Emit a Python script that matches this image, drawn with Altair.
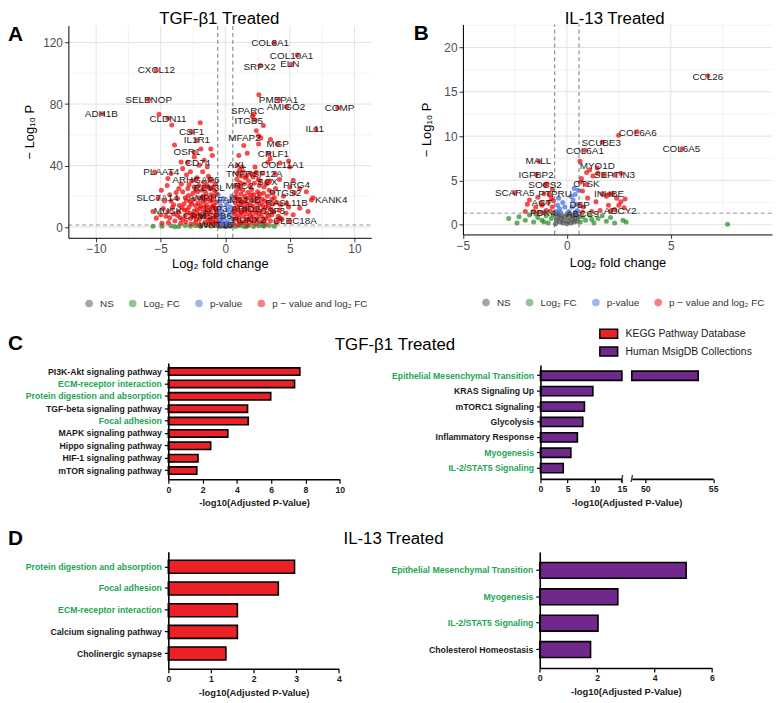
import json
import altair as alt
import pandas as pd

W, H = 775, 694
FONT = "Liberation Sans"
GREEN_TXT = "#22a552"
DARK = "#1a1a1a"

# ---------------- volcano data ----------------
V_CATS = ["NS", "Log₂ FC", "p-value", "p − value and log₂ FC"]
V_COLORS = ["#4d4d4d", "#228b22", "#4169e1", "#ee0000"]

A_NS = [(-0.4, 0.4), (-0.2, 0.8), (0.0, 0.3), (0.2, 0.9), (0.4, 0.5), (-0.5, 1.0), (0.5, 1.1), (0.1, 0.6)]
A_FC = [(-4.9, 0.6), (-4.2, 0.9), (-3.6, 0.4), (-3.1, 1.0), (-2.7, 0.5), (-2.3, 0.8), (-1.9, 0.3), (-1.5, 1.1),
        (-1.1, 0.6), (-0.8, 0.9), (0.8, 0.4), (1.1, 1.0), (1.4, 0.6), (1.8, 0.9), (2.2, 0.3), (2.6, 0.8),
        (3.0, 0.5), (3.4, 1.0), (3.8, 0.6), (-2.0, 0.9), (1.6, 0.2), (-5.6, 0.5), (-3.9, 0.2), (2.9, 1.1)]
A_P = [(-0.5, 2), (-0.4, 4), (-0.55, 6.5), (-0.3, 3), (-0.45, 9), (-0.2, 5.5), (-0.5, 12), (-0.35, 14),
       (-0.1, 7), (0.0, 2.5), (-0.25, 10.5), (0.15, 4), (0.3, 8), (0.45, 2), (0.5, 5.5), (0.2, 11),
       (0.4, 13), (0.55, 10), (0.1, 15), (0.35, 17), (-0.4, 17), (0.5, 20), (-0.15, 18.5), (0.25, 2), (-0.55, 21)]
A_FCP_LEFT = [
    (-0.65, 1.8), (-0.7, 4.5), (-0.75, 8), (-0.8, 12), (-0.7, 16), (-0.9, 20), (-0.85, 24), (-0.75, 28),
    (-1.0, 2.5), (-1.05, 6), (-1.1, 9.5), (-1.0, 13.5), (-1.15, 17), (-1.1, 21), (-1.2, 25), (-1.05, 30),
    (-1.3, 1.5), (-1.35, 4.5), (-1.4, 8), (-1.3, 11), (-1.45, 14.5), (-1.35, 18.5), (-1.5, 22), (-1.4, 27), (-1.3, 33),
    (-1.6, 3), (-1.65, 6.5), (-1.7, 10), (-1.6, 13), (-1.75, 16.5), (-1.7, 20), (-1.8, 24), (-1.65, 29), (-1.75, 36),
    (-1.95, 1.5), (-2.0, 5), (-2.05, 8.5), (-1.95, 12), (-2.1, 15.5), (-2.0, 19), (-2.15, 23), (-2.05, 27), (-2.2, 32),
    (-2.3, 3), (-2.35, 7), (-2.4, 10.5), (-2.3, 14), (-2.45, 18), (-2.5, 22), (-2.4, 26), (-2.6, 30),
    (-2.65, 2), (-2.7, 5.5), (-2.75, 9), (-2.8, 13), (-2.7, 16.5), (-2.85, 20.5), (-2.9, 25), (-3.0, 34),
    (-3.05, 3.5), (-3.1, 7.5), (-3.15, 11), (-3.2, 15), (-3.1, 19), (-3.3, 23), (-3.4, 28),
    (-3.45, 2.5), (-3.5, 6), (-3.6, 10), (-3.55, 14), (-3.7, 18.5), (-3.8, 22.5),
    (-3.9, 4), (-4.0, 8.5), (-4.1, 12.5), (-4.2, 17), (-4.3, 21), (-4.5, 27),
    (-4.4, 3), (-4.6, 7), (-4.8, 12), (-4.9, 2.5),
    (-0.68, 10), (-0.9, 14), (-0.95, 3.5), (-1.2, 5), (-1.25, 12.5), (-1.5, 10), (-1.55, 17.5), (-1.85, 7),
    (-1.9, 13.5), (-2.2, 11), (-2.25, 5), (-2.55, 8), (-2.6, 15), (-2.95, 11), (-3.0, 17.5), (-3.3, 5),
    (-3.35, 12.5), (-3.7, 7.5), (-4.0, 14.5), (-4.3, 6), (-1.2, 31), (-1.6, 25.5), (-2.3, 24.5), (-0.95, 26),
    (-2.8, 27.5), (-3.6, 25), (-0.7, 22), (-4.7, 17), (-5.0, 8), (-1.0, 17.5)]
A_FCP_RIGHT = [
    (0.65, 2), (0.7, 5), (0.75, 8.5), (0.7, 12), (0.8, 15.5), (0.75, 19), (0.85, 23), (0.8, 27), (0.9, 31),
    (1.0, 1.5), (1.05, 4.5), (1.1, 8), (1.0, 11), (1.15, 14.5), (1.1, 18), (1.2, 21.5), (1.05, 25), (1.15, 29), (1.25, 33), (1.1, 37),
    (1.35, 3), (1.4, 6.5), (1.3, 10), (1.45, 13), (1.4, 16.5), (1.5, 20), (1.35, 24), (1.45, 28), (1.55, 32), (1.4, 36),
    (1.7, 1.5), (1.75, 5), (1.65, 8.5), (1.8, 12), (1.7, 15), (1.85, 19), (1.75, 22.5), (1.9, 26.5), (1.8, 30), (1.95, 35),
    (2.05, 3), (2.1, 6.5), (2.0, 10), (2.15, 13.5), (2.1, 17), (2.2, 21), (2.05, 24.5), (2.25, 28.5), (2.15, 32.5), (2.3, 39),
    (2.4, 2), (2.45, 5.5), (2.35, 9), (2.5, 12.5), (2.45, 16), (2.6, 19.5), (2.5, 23), (2.65, 27), (2.55, 31),
    (2.75, 3.5), (2.8, 7), (2.7, 10.5), (2.9, 14), (2.85, 18), (2.95, 22), (3.0, 26), (2.9, 35),
    (3.1, 2), (3.15, 5.5), (3.2, 9), (3.1, 12.5), (3.3, 16), (3.25, 20), (3.4, 24), (3.45, 30),
    (3.5, 4), (3.6, 8), (3.55, 11.5), (3.7, 15), (3.8, 19), (3.9, 25),
    (3.95, 3), (4.1, 7), (4.2, 11), (4.3, 14.5), (4.5, 20), (4.7, 9), (4.9, 13),
    (0.68, 10), (0.95, 13), (0.9, 6), (1.2, 3), (1.25, 9.5), (1.3, 16), (1.6, 4), (1.55, 11), (1.6, 18),
    (1.95, 7.5), (1.9, 14.5), (2.0, 21), (2.3, 11), (2.3, 4.5), (2.35, 18.5), (2.6, 8.5), (2.7, 15), (2.65, 21.5),
    (3.0, 4.5), (3.0, 11), (3.05, 17), (3.35, 7), (3.35, 13.5), (3.6, 18), (3.75, 10), (4.0, 16), (0.95, 35),
    (1.65, 33), (2.4, 35.5), (2.7, 30), (3.2, 28), (3.7, 22), (4.4, 5), (1.3, 39), (0.85, 20)]
A_FCP_SPARSE = [
    (-5.13, 73.3), (-4.14, 66.4), (-1.94, 67.9), (-3.93, 53.4), (-1.89, 50.8), (-1.12, 50.8), (-2.4, 45.5),
    (-3.42, 42.3), (-2.02, 40.2), (-1.63, 43.4), (-1.0, 46.6), (-4.19, 34.8), (-4.44, 31.6), (-4.95, 24),
    (-5.6, 10.1), (-5.34, 5.8), (-3.3, 38), (-2.7, 36), (-1.4, 39),
    (1.05, 46.6), (1.43, 53), (2.58, 54), (2.4, 62.7), (3.47, 44.4), (3.85, 34.8), (5.0, 39), (5.26, 30.5),
    (5.77, 25.1), (6.28, 23), (6.67, 17.6), (6.41, 10.1), (5.77, 12.2), (5.26, 8), (5.0, 3.7), (4.24, 5.8),
    (2.6, 86), (2.95, 66), (2.1, 72), (2.75, 58), (3.5, 57), (4.9, 43), (4.2, 31), (3.3, 42), (1.7, 48)]
# (gene, point x, point y, label x, label y)
A_GENES = [
    ("COL8A1", 3.78, 119.8, 3.47, 119.8), ("COL10A1", 5.57, 111.9, 5.13, 111.4), ("ELN", 5.13, 105.8, 5.0, 105.8),
    ("SRPX2", 2.71, 105.0, 2.66, 104.4), ("CXCL12", -5.34, 102.2, -5.34, 102.2), ("SELENOP", -5.93, 82.9, -5.93, 82.9),
    ("ADH1B", -9.5, 73.7, -9.6, 73.3), ("CLDN11", -4.44, 70.7, -4.44, 70.5), ("PMEPA1", 4.14, 82.9, 4.12, 82.9),
    ("AMIGO2", 4.75, 78.2, 4.7, 78.2), ("COMP", 8.71, 77.6, 8.84, 77.6), ("SPARC", 2.2, 73.3, 1.74, 75.4),
    ("ITGB5", 2.32, 69.6, 1.81, 69.0), ("IL11", 7.0, 63.6, 6.92, 63.6), ("CSF1", -2.61, 61.9, -2.61, 61.5),
    ("IL1R1", -2.2, 56.6, -2.2, 56.6), ("MFAP2", 2.58, 59.4, 1.48, 57.6), ("MGP", 4.06, 54.0, 4.06, 54.0),
    ("OSR1", -2.4, 48.6, -2.96, 48.6), ("CRLF1", 3.35, 47.6, 3.73, 47.6), ("CD74", -2.91, 42.2, -2.15, 41.8),
    ("AXL", 0.92, 40.1, 0.92, 40.1), ("COL11A1", 4.24, 41.6, 4.44, 40.5), ("PLAAT4", -5.47, 35.8, -4.96, 35.8),
    ("TNFRSF12A", 2.25, 34.3, 2.25, 34.3), ("ARHGAP6", -2.27, 30.9, -2.27, 30.9), ("SCX", 3.27, 29.4, 3.27, 29.4),
    ("PRG4", 5.0, 25.9, 5.52, 27.2), ("REV3L", -1.25, 25.7, -1.25, 25.7), ("MRC2", 1.1, 26.6, 1.1, 26.6),
    ("SLC7A14", -5.21, 18.6, -5.26, 18.6), ("AMPH", -1.76, 19.1, -1.76, 19.1), ("PTGS2", 5.34, 22.3, 4.62, 21.9),
    ("KANK4", 6.79, 19.1, 8.2, 17.6), ("FAM214B", 1.05, 17.6, 1.05, 17.6), ("RASL11B", 4.75, 15.4, 4.75, 15.4),
    ("LAP3", -0.74, 11.8, -0.74, 11.8), ("ARID2", 1.56, 11.8, 1.56, 11.8), ("MUSK", -4.44, 10.1, -4.44, 10.1),
    ("CSF3", 3.65, 10.1, 3.65, 10.1), ("CPM", -2.4, 6.9, -2.4, 6.9), ("HSPB6", -0.74, 6.9, -0.74, 6.9),
    ("RUNX2", 1.81, 4.7, 1.81, 4.7), ("WNT16", -0.74, 2.5, -0.74, 1.1), ("CLEC18A", 4.11, 4.7, 5.39, 4.1)]

B_NS = [(-0.55, 0.1), (-0.5, 0.5), (-0.45, 0.9), (-0.4, 1.2), (-0.35, 0.3), (-0.3, 0.7), (-0.25, 1.0), (-0.2, 0.2),
        (-0.15, 0.5), (-0.1, 0.9), (0.0, 0.1), (0.05, 0.4), (0.1, 0.8), (0.15, 1.2), (0.2, 0.2), (0.25, 0.6),
        (0.3, 1.0), (0.35, 0.3), (0.4, 0.7), (0.45, 1.1), (0.5, 0.4), (0.55, 0.9), (-0.5, 1.25), (0.0, 1.2)]
B_FC = [(-2.8, 0.7), (-2.3, 0.9), (-2.0, 0.5), (-1.8, 1.1), (-1.6, 0.3), (-1.4, 0.8), (-1.2, 0.5), (-1.0, 1.0),
        (-0.9, 0.2), (-0.75, 0.7), (-0.65, 1.1), (-2.4, 0.2), (-1.5, 1.2), (0.65, 0.3), (0.75, 0.9), (0.9, 0.5),
        (1.1, 1.1), (1.3, 0.2), (1.5, 0.7), (1.7, 1.0), (1.9, 0.4), (2.1, 0.8), (2.3, 0.2), (2.7, 0.5),
        (2.85, 0.3), (7.73, 0.05), (1.2, 0.6), (-1.1, 0.3)]
B_P = [(-0.5, 1.5), (-0.45, 2.2), (-0.35, 1.8), (-0.4, 3.0), (-0.2, 2.5), (-0.3, 1.4), (0.1, 1.5), (0.25, 2.0),
       (0.3, 2.8), (0.4, 3.4), (0.45, 2.3), (0.5, 1.6), (0.35, 4.1), (0.55, 3.9), (0.2, 3.2), (-0.1, 2.0), (0.4, 1.4)]
B_FCP = [(0.63, 7.15), (2.49, 10.1), (0.7, 5.2), (0.95, 5.9), (1.1, 6.2), (1.25, 5.5), (1.5, 5.8), (1.8, 5.6),
         (2.6, 5.8), (2.2, 3.5), (1.9, 3.2), (2.4, 3.0), (2.6, 2.6), (2.5, 2.2), (2.3, 1.7), (1.6, 1.6), (1.4, 2.6),
         (1.0, 3.0), (0.8, 2.0), (1.2, 1.5), (0.75, 3.8), (0.65, 4.8), (2.8, 2.9), (2.75, 1.9), (2.0, 2.2), (1.7, 3.5),
         (-0.7, 2.0), (-0.75, 3.0), (-0.9, 2.5), (-1.0, 1.6), (-1.5, 2.0), (-1.6, 1.5), (-1.8, 2.8), (-1.4, 3.1),
         (-1.1, 3.5), (-0.7, 4.0), (-0.8, 1.5), (-2.0, 1.5), (-1.9, 2.3), (-1.2, 2.2), (-0.95, 4.6), (-0.65, 2.7), (-1.35, 1.4)]
B_GENES = [
    ("CCL26", 6.78, 16.8, 6.78, 16.7), ("COL6A6", 3.37, 10.5, 3.41, 10.4), ("COL6A5", 5.54, 8.57, 5.51, 8.5),
    ("SCUBE3", 1.7, 9.3, 1.65, 9.24), ("COL6A1", 0.87, 8.4, 0.87, 8.3), ("MALL", -1.35, 7.15, -1.37, 7.15),
    ("MYO1D", 1.46, 6.4, 1.46, 6.6), ("IGFBP2", -1.48, 5.66, -1.48, 5.66), ("SEPTIN3", 2.29, 5.59, 2.29, 5.59),
    ("SOCS2", -1.05, 4.47, -1.05, 4.47), ("CTSK", 0.94, 4.54, 0.94, 4.54), ("SCARA5", -2.51, 3.61, -2.51, 3.61),
    ("PTPRU", -0.84, 3.43, -0.57, 3.43), ("INHBE", 2.03, 3.43, 2.03, 3.43), ("AGT", -1.21, 2.42, -1.21, 2.42),
    ("DSP", 0.62, 2.23, 0.62, 2.23), ("ADCY2", 2.1, 1.56, 2.57, 1.56), ("PDK4", -1.16, 1.34, -1.16, 1.34),
    ("ABCC9", 0.75, 1.4, 0.75, 1.23)]

# ---------------- enrichment data ----------------
DBS = ["KEGG Pathway Database", "Human MsigDB Collections"]
DB_COLORS = ["#ec2027", "#70288c"]

C_KEGG_TERMS = ["PI3K-Akt signaling pathway", "ECM-receptor interaction", "Protein digestion and absorption",
                "TGF-beta signaling pathway", "Focal adhesion", "MAPK signaling pathway",
                "Hippo signaling pathway", "HIF-1 signaling pathway", "mTOR signaling pathway"]
C_KEGG_VALS = [7.67, 7.36, 5.97, 4.62, 4.66, 3.47, 2.47, 1.73, 1.66]
C_KEGG_GREEN = ["ECM-receptor interaction", "Protein digestion and absorption", "Focal adhesion"]

C_MSIG_TERMS = ["Epithelial Mesenchymal Transition", "KRAS Signaling Up", "mTORC1 Signaling", "Glycolysis",
                "Inflammatory Response", "Myogenesis", "IL-2/STAT5 Signaling"]
C_MSIG_VALS = [53.9, 9.65, 8.1, 7.8, 6.8, 5.6, 4.2]
C_MSIG_GREEN = ["Epithelial Mesenchymal Transition", "Myogenesis", "IL-2/STAT5 Signaling"]

D_KEGG_TERMS = ["Protein digestion and absorption", "Focal adhesion", "ECM-receptor interaction",
                "Calcium signaling pathway", "Cholinergic synapse"]
D_KEGG_VALS = [2.96, 2.58, 1.62, 1.62, 1.35]
D_KEGG_GREEN = ["Protein digestion and absorption", "Focal adhesion", "ECM-receptor interaction"]

D_MSIG_TERMS = ["Epithelial Mesenchymal Transition", "Myogenesis", "IL-2/STAT5 Signaling", "Cholesterol Homeostasis"]
D_MSIG_VALS = [5.1, 2.72, 2.03, 1.77]
D_MSIG_GREEN = ["Epithelial Mesenchymal Transition", "Myogenesis", "IL-2/STAT5 Signaling"]

XTITLE_BAR = "-log10(Adjusted P-Value)"


# ---------------- volcano builder (returns flat list of unit charts) ----------------
def volcano(ns, fc, p, fcp, genes, xdom, xrng, ydom, yrng, xt, yt, xminor, yminor, leg, ypad, xpad):
    def xs():
        return alt.Scale(domain=xdom, range=xrng, nice=False, zero=False)

    def ys():
        return alt.Scale(domain=ydom, range=yrng, nice=False, zero=False)

    rows = []
    for cat, pts in zip(V_CATS, (ns, fc, p, fcp)):
        rows += [{"x": a, "y": b, "cat": cat} for a, b in pts]
    rows += [{"x": g[1], "y": g[2], "cat": V_CATS[3]} for g in genes]
    pts_df = pd.DataFrame(rows)
    lab_df = pd.DataFrame([{"label": g[0], "x": g[3], "y": g[4]} for g in genes])

    def vrule(vals, **mk):
        df = pd.DataFrame({"v": vals, "lo": [ydom[0]] * len(vals), "hi": [ydom[1]] * len(vals)})
        return alt.Chart(df).mark_rule(**mk).encode(
            x=alt.X("v:Q", scale=xs(), axis=None), y=alt.Y("lo:Q", scale=ys(), axis=None), y2="hi:Q")

    def hrule(vals, **mk):
        df = pd.DataFrame({"v": vals, "lo": [xdom[0]] * len(vals), "hi": [xdom[1]] * len(vals)})
        return alt.Chart(df).mark_rule(**mk).encode(
            y=alt.Y("v:Q", scale=ys(), axis=None), x=alt.X("lo:Q", scale=xs(), axis=None), x2="hi:Q")

    ax_common = dict(grid=False, labelFont=FONT, labelFontSize=12, labelColor="#4d4d4d", labelPadding=2,
                     labelFlush=False, labelOverlap=False, tickSize=4, tickColor="#333333",
                     domainColor="#000000", domainWidth=1, titleFont=FONT, titleFontSize=13,
                     titleFontWeight="normal", titleColor="#000000", minExtent=0, zindex=1)
    xaxis = alt.Axis(orient="bottom", offset=yrng[0] - H, values=xt, title="Log₂ fold change",
                     titlePadding=xpad, **ax_common)
    yaxis = alt.Axis(orient="left", offset=-xrng[0], values=yt, title="− Log₁₀ P",
                     titlePadding=ypad, **ax_common)
    legend = alt.Legend(orient="none", legendX=leg[0], legendY=leg[1], direction="horizontal", title=None,
                        symbolType="circle", symbolSize=60, symbolOpacity=0.5, symbolStrokeWidth=0,
                        labelFont=FONT, labelFontSize=10, labelColor="#333333", columnPadding=14, labelOffset=6)
    points = alt.Chart(pts_df).mark_circle(size=26, opacity=0.7).encode(
        x=alt.X("x:Q", scale=xs(), axis=xaxis),
        y=alt.Y("y:Q", scale=ys(), axis=yaxis),
        color=alt.Color("cat:N", scale=alt.Scale(domain=V_CATS, range=V_COLORS), legend=legend))
    labels = alt.Chart(lab_df).mark_text(font=FONT, fontSize=10, color="#222222").encode(
        x=alt.X("x:Q", scale=xs(), axis=None), y=alt.Y("y:Q", scale=ys(), axis=None), text="label:N")
    return [
        vrule(xminor, color="#f0f0f0", strokeWidth=0.8),
        hrule(yminor, color="#f0f0f0", strokeWidth=0.8),
        vrule(xt, color="#e2e2e2", strokeWidth=1),
        hrule(yt, color="#e2e2e2", strokeWidth=1),
        points,
        vrule([-0.585, 0.585], color="#555555", strokeWidth=0.8, strokeDash=[4, 3]),
        hrule([1.301], color="#777777", strokeWidth=0.8, strokeDash=[4, 3]),
        labels,
    ]


vol_a = volcano(A_NS, A_FC, A_P, A_FCP_LEFT + A_FCP_RIGHT + A_FCP_SPARSE, A_GENES,
                [-12.15, 11.3], [61, 367], [-7, 131], [228.6, 14.2],
                [-10, -5, 0, 5, 10], [0, 40, 80, 120], [-7.5, -2.5, 2.5, 7.5], [20, 60, 100],
                (77, 290), 6, 3)
vol_b = volcano(B_NS, B_FC, B_P, B_FCP, B_GENES,
                [-5, 9.87], [459.7, 772], [-1.1, 22.6], [225.2, 13.0],
                [-5, 0, 5], [0, 5, 10, 15, 20], [-2.5, 2.5, 7.5], [2.5, 7.5, 12.5, 17.5, 22.5],
                (478, 289), 10, 5)


# ---------------- bar builders ----------------
def y_axis(x_pix, green):
    test = "indexof(%s, datum.value) >= 0" % json.dumps(green)
    return alt.Axis(orient="left", offset=-x_pix, title=None, grid=False, zindex=1,
                    labelFont=FONT, labelFontWeight="bold", labelFontSize=8.8,
                    labelColor={"condition": {"test": test, "value": GREEN_TXT}, "value": DARK},
                    labelPadding=3, labelLimit=400, tickSize=4, tickWidth=1.2, tickColor="#000000",
                    domainColor="#000000", domainWidth=1.6)


def x_axis(y_pix, ticks, title, titleX=None):
    kw = dict(orient="bottom", offset=y_pix - H, values=ticks, grid=False, zindex=1,
              labelFont=FONT, labelFontWeight="bold", labelFontSize=8.8, labelColor=DARK, labelPadding=2,
              labelFlush=False, labelOverlap=False, tickSize=4, tickWidth=1.2, tickColor="#000000",
              domainColor="#000000", domainWidth=1.6, titleFont=FONT, titleFontWeight="bold",
              titleFontSize=9.5, titleColor=DARK, titlePadding=4, title=title)
    if titleX is not None:
        kw["titleX"] = titleX
    return alt.Axis(**kw)


def bars(terms, vals, db, xs, ys, xaxis, yaxis, legend=None, filt=None):
    df = pd.DataFrame({"term": terms, "v": vals, "zero": [0.0] * len(terms), "db": [db] * len(terms)})
    ch = alt.Chart(df)
    if filt:
        ch = ch.transform_filter(filt)
    return ch.mark_bar(stroke="#000000", strokeWidth=1.6).encode(
        x=alt.X("v:Q", scale=xs, axis=xaxis), x2="zero:Q",
        y=alt.Y("term:N", scale=ys, axis=yaxis, sort=None),
        color=alt.Color("db:N", scale=alt.Scale(domain=DBS, range=DB_COLORS), legend=legend))


def band(terms, rng):
    return alt.Scale(domain=terms, range=rng, paddingInner=0.4, paddingOuter=0.4)


db_legend = alt.Legend(orient="none", legendX=601.5, legendY=320, direction="vertical", title=None,
                       symbolType="M-2,-1H2V1H-2Z", symbolSize=81, symbolStrokeColor="#000000",
                       symbolStrokeWidth=1.5, symbolOpacity=1, labelFont=FONT, labelFontSize=10.5,
                       labelColor=DARK, labelOffset=11.5, rowPadding=3)

# C left
c_left = bars(C_KEGG_TERMS, C_KEGG_VALS, DBS[0],
              alt.Scale(domain=[0, 10], range=[162, 335.3], nice=False, zero=False),
              band(C_KEGG_TERMS, [355, 472.5]),
              x_axis(472.5, [0, 2, 4, 6, 8, 10], XTITLE_BAR), y_axis(162, C_KEGG_GREEN), legend=db_legend)

# C right (broken axis)
CR_Y = [357.1, 472.2]
CR_X1 = dict(domain=[0, 15], range=[538, 620.3], nice=False, zero=False, clamp=True)
CR_X2 = dict(domain=[49, 55], range=[630.3, 712.5], nice=False, zero=False, clamp=True)
seg1 = bars(C_MSIG_TERMS, C_MSIG_VALS, DBS[1], alt.Scale(**CR_X1), band(C_MSIG_TERMS, CR_Y),
            x_axis(472.2, [0, 5, 10, 15], XTITLE_BAR, titleX=625), y_axis(538, C_MSIG_GREEN))
seg2 = bars(C_MSIG_TERMS, C_MSIG_VALS, DBS[1], alt.Scale(**CR_X2), band(C_MSIG_TERMS, CR_Y),
            x_axis(472.2, [50, 55], None), None, filt="datum.v > 49")
brk1 = alt.Chart(pd.DataFrame({"v": [15]})).mark_text(text="/", font=FONT, fontSize=9, fontWeight="bold",
                                                      color="#000000").encode(
    x=alt.X("v:Q", scale=alt.Scale(**CR_X1), axis=None), y=alt.value(472.2))
brk2 = alt.Chart(pd.DataFrame({"v": [49]})).mark_text(text="/", font=FONT, fontSize=9, fontWeight="bold",
                                                      color="#000000").encode(
    x=alt.X("v:Q", scale=alt.Scale(**CR_X2), axis=None), y=alt.value(472.2))

# D left / right
d_left = bars(D_KEGG_TERMS, D_KEGG_VALS, DBS[0],
              alt.Scale(domain=[0, 4], range=[162, 334.3], nice=False, zero=False),
              band(D_KEGG_TERMS, [545.7, 664]),
              x_axis(664, [0, 1, 2, 3, 4], XTITLE_BAR), y_axis(162, D_KEGG_GREEN))
d_right = bars(D_MSIG_TERMS, D_MSIG_VALS, DBS[1],
               alt.Scale(domain=[0, 6], range=[537.3, 711.3], nice=False, zero=False),
               band(D_MSIG_TERMS, [546.0, 663.3]),
               x_axis(663.3, [0, 2, 4, 6], XTITLE_BAR), y_axis(537.3, D_MSIG_GREEN))

# ---------------- annotations ----------------
LETTERS = ["A", "B", "C", "D"]
LETTER_X = [0, 410, 0, 0]
LETTER_Y = [30, 29, 342, 538.7]
TITLES = ["TGF-β1 Treated", "IL-13 Treated", "TGF-β1 Treated", "IL-13 Treated"]
TITLE_X = [213.5, 613, 391, 389.5]
TITLE_Y = [13, 13, 342, 538]

letters = alt.Chart(pd.DataFrame({"t": LETTERS, "px": LETTER_X, "py": LETTER_Y})).mark_text(
    font=FONT, fontSize=21, fontWeight="bold", align="left", baseline="alphabetic", color="#000000").encode(
    x=alt.X("px:Q", scale=None, axis=None), y=alt.Y("py:Q", scale=None, axis=None), text="t:N")
titles = alt.Chart(pd.DataFrame({"t": TITLES, "px": TITLE_X, "py": TITLE_Y})).mark_text(
    font=FONT, fontSize=17, align="center", baseline="alphabetic", color="#000000").encode(
    x=alt.X("px:Q", scale=None, axis=None), y=alt.Y("py:Q", scale=None, axis=None), text="t:N")

units = vol_a + vol_b + [c_left, seg1, seg2, brk1, brk2, d_left, d_right, letters, titles]
chart = alt.layer(*units).resolve_scale(
    x="independent", y="independent", color="independent"
).properties(
    width=W, height=H, autosize=alt.AutoSizeParams(type="none"), padding=0
).configure_view(stroke=None)

chart.save("out.html", embed_options={"renderer": "svg", "actions": False})
